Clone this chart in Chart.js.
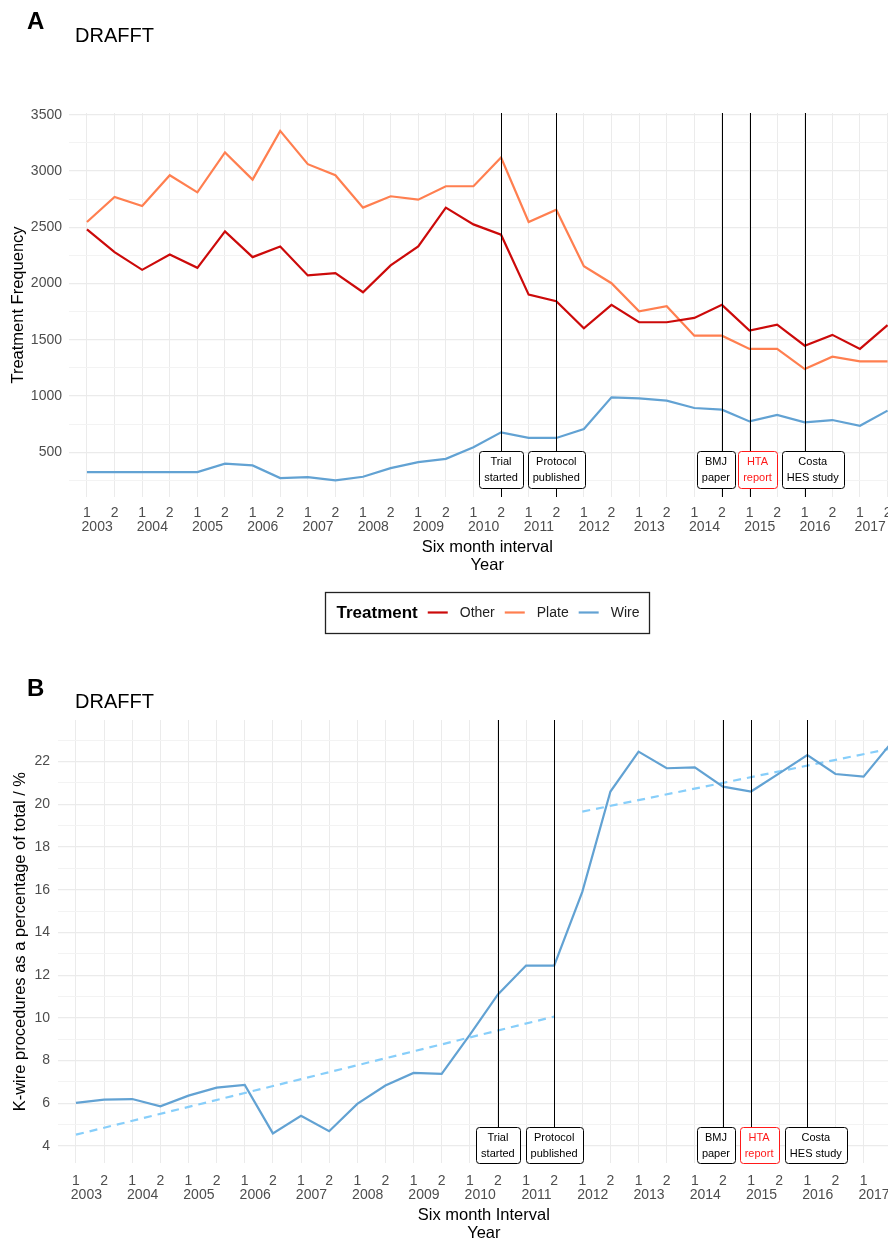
<!DOCTYPE html>
<html>
<head>
<meta charset="utf-8">
<script src="https://cdn.jsdelivr.net/npm/chart.js@4"></script>
<style>
  html, body { margin: 0; padding: 0; overflow: hidden; background: #fff; }
  .panel { position: absolute; left: 0; }
</style>
</head>
<body>
<div class="panel" style="top:0"><canvas id="chartA" width="910" height="645"></canvas></div>
<div class="panel" style="top:660px"><canvas id="chartB" width="912" height="590"></canvas></div>
<script>
// ---- data ----
const years = ['2003', '2004', '2005', '2006', '2007', '2008', '2009', '2010',
               '2011', '2012', '2013', '2014', '2015', '2016', '2017'];
const halves = ['1', '2'];

// panel A: treatment counts per six month interval (2003-1 .. 2017-2)
const other = [2480, 2278, 2121, 2258, 2139, 2463, 2234, 2328, 2071, 2091,
               1922, 2160, 2329, 2674, 2525, 2433, 1901, 1842, 1601, 1810,
               1655, 1655, 1694, 1810, 1581, 1634, 1447, 1543, 1418, 1630];
const plate = [2546, 2768, 2688, 2962, 2810, 3164, 2923, 3356, 3060, 2962,
               2674, 2775, 2745, 2864, 2864, 3119, 2546, 2656, 2154, 2002,
               1753, 1798, 1536, 1536, 1418, 1418, 1239, 1349, 1307, 1307];
const wire  = [323, 323, 323, 323, 323, 398, 383, 270, 279, 250,
               282, 359, 412, 441, 544, 677, 627, 627, 707, 988,
               979, 958, 893, 878, 774, 831, 765, 786, 735, 870];

// panel B: K-wire share of total (%)
const wirePct = [6.02, 6.17, 6.20, 5.86, 6.36, 6.73, 6.86, 4.59, 5.41, 4.69,
                 5.97, 6.83, 7.42, 7.38, 9.20, 11.10, 12.45, 12.45, 15.90, 20.60,
                 22.47, 21.69, 21.73, 20.83, 20.60, 21.45, 22.31, 21.42, 21.30, 22.90];
// fitted trend lines, before / after the protocol (period index, value)
const trendPreIdx = [0, 17];
const trendPreVal = [4.53, 10.06];
const trendPostIdx = [18, 29];
const trendPostVal = [19.66, 22.62];

// events marked on both panels (period index)
const eventIdx = [15, 17, 23, 24, 26];
const eventLabels = [['Trial', 'started'], ['Protocol', 'published'], ['BMJ', 'paper'],
                     ['HTA', 'report'], ['Costa', 'HES study']];
const eventColors = ['#000', '#000', '#000', '#ff1a1a', '#000'];

// ---- styling ----
const FONT = '"Liberation Sans", Arial, sans-serif';
Chart.defaults.font.family = FONT;
Chart.defaults.color = '#4d4d4d';
const RED = '#cc0a0a', CORAL = '#ff7f50', BLUE = '#62a2d3', LIGHT = '#87cefa';

const pts = (vals) => vals.map((v, i) => ({ x: i, y: v }));
const ptsIdx = (idx, vals) => idx.map((x, i) => ({ x: x, y: vals[i] }));

// vertical event lines + label boxes
const eventPlugin = {
    id: 'events',
    afterDatasetsDraw(chart, args, opts) {
        const { ctx, chartArea, scales } = chart;
        ctx.save();
        ctx.strokeStyle = '#000';
        ctx.lineWidth = 1;
        eventIdx.forEach(idx => {
            const x = Math.round(scales.x.getPixelForValue(idx)) + 0.5;
            ctx.beginPath();
            ctx.moveTo(x, chartArea.top);
            ctx.lineTo(x, chartArea.bottom);
            ctx.stroke();
        });
        const yc = scales.y.getPixelForValue(opts.labelY);
        ctx.font = '11px ' + FONT;
        ctx.textAlign = 'center';
        ctx.textBaseline = 'middle';
        eventIdx.forEach((idx, i) => {
            const lines = eventLabels[i];
            const w = Math.max(...lines.map(l => ctx.measureText(l).width)) + 10;
            const h = opts.boxH;
            const cx = scales.x.getPixelForValue(idx) + opts.nudge[i];
            const x0 = Math.round(cx - w / 2) + 0.5;
            const y0 = Math.round(yc - h / 2) + 0.5;
            ctx.beginPath();
            ctx.roundRect(x0, y0, Math.round(w), h, 3);
            ctx.fillStyle = '#fff';
            ctx.fill();
            ctx.strokeStyle = eventColors[i];
            ctx.stroke();
            ctx.fillStyle = eventColors[i];
            ctx.fillText(lines[0], cx, yc - 7);
            ctx.fillText(lines[1], cx, yc + 9);
        });
        ctx.restore();
    }
};

// panel letter and "DRAFFT" heading
const headingPlugin = {
    id: 'heading',
    afterDraw(chart, args, opts) {
        const { ctx } = chart;
        ctx.save();
        ctx.fillStyle = '#000';
        ctx.textAlign = 'left';
        ctx.textBaseline = 'alphabetic';
        ctx.font = 'bold 24px ' + FONT;
        ctx.fillText(opts.letter, 27, opts.letterY);
        ctx.font = '20px ' + FONT;
        ctx.fillText('DRAFFT', 75, opts.titleY);
        ctx.restore();
    }
};

// ggplot-like legend in a box: bold title then line keys
const legendBox = {
    id: 'legendBox',
    afterDraw(chart, args, opts) {
        if (!opts.show) return;
        const { ctx, chartArea } = chart;
        ctx.save();
        ctx.font = 'bold 17px ' + FONT;
        const titleW = ctx.measureText('Treatment').width;
        ctx.font = '14px ' + FONT;
        const items = chart.data.datasets.map(ds => ({
            label: ds.label, color: ds.borderColor, w: ctx.measureText(ds.label).width
        }));
        const total = 11 + titleW + items.reduce((s, it) => s + 10 + 20 + 12 + it.w, 0) + 10;
        const x0 = Math.round((chartArea.left + chartArea.right) / 2 - total / 2) + 0.5;
        const y0 = opts.top + 0.5, h = 41, yc = opts.top + h / 2;
        ctx.strokeStyle = '#222';
        ctx.lineWidth = 1.3;
        ctx.strokeRect(x0, y0, Math.round(total), h);
        ctx.textBaseline = 'middle';
        ctx.textAlign = 'left';
        ctx.fillStyle = '#000';
        ctx.font = 'bold 17px ' + FONT;
        let x = x0 + 11;
        ctx.fillText('Treatment', x, yc + 1);
        x += titleW;
        ctx.font = '14px ' + FONT;
        items.forEach(it => {
            x += 10;
            ctx.strokeStyle = it.color;
            ctx.lineWidth = 2.2;
            ctx.beginPath();
            ctx.moveTo(x, yc);
            ctx.lineTo(x + 20, yc);
            ctx.stroke();
            x += 32;
            ctx.fillStyle = '#222';
            ctx.fillText(it.label, x, yc + 1);
            x += it.w;
        });
        ctx.restore();
    }
};

function xAxes(xHeight, xPad, yearHeight, yearPad, titleText, titleBottom) {
    return {
        x: {
            type: 'linear', position: 'bottom', weight: 0,
            min: -0.65, max: 29.65,
            grid: { color: '#ebebeb', lineWidth: 1, drawTicks: false },
            border: { display: false },
            ticks: {
                stepSize: 1, includeBounds: false, autoSkip: false, maxRotation: 0,
                padding: xPad, font: { size: 14 }, color: '#4d4d4d',
                callback: v => Number.isInteger(v) ? halves[((v % 2) + 2) % 2] : ''
            },
            afterFit: s => { s.height = xHeight; }
        },
        xYear: {
            type: 'linear', position: 'bottom', weight: 1,
            min: -0.65, max: 29.65,
            grid: { display: false, drawTicks: false },
            border: { display: false },
            // year label sits a little left of the mid point between its two halves
            afterBuildTicks: s => { s.ticks = years.map((y, i) => ({ value: 2 * i + 0.37 })); },
            ticks: {
                autoSkip: false, maxRotation: 0, padding: yearPad,
                font: { size: 14 }, color: '#4d4d4d',
                callback: v => years[Math.round((v - 0.37) / 2)]
            },
            title: {
                display: true, text: titleText, color: '#000',
                font: { size: 16.5, lineHeight: 1.1 },
                padding: { top: 0, bottom: titleBottom }
            },
            afterFit: s => { s.height = yearHeight; }
        }
    };
}

// ---- panel A ----
new Chart(document.getElementById('chartA'), {
    type: 'line',
    data: {
        datasets: [
            { label: 'Other', data: pts(other), borderColor: RED, backgroundColor: RED },
            { label: 'Plate', data: pts(plate), borderColor: CORAL, backgroundColor: CORAL },
            { label: 'Wire', data: pts(wire), borderColor: BLUE, backgroundColor: BLUE }
        ]
    },
    options: {
        responsive: false,
        animation: false,
        devicePixelRatio: 1,
        layout: { padding: { top: 113, bottom: 66.5, left: 0, right: 4.5 } },
        elements: { line: { borderWidth: 2.2, tension: 0 }, point: { radius: 0 } },
        plugins: {
            legend: { display: false },
            tooltip: { enabled: false },
            events: { labelY: 349, boxH: 37, nudge: [0, 0, -6, 8, 8] },
            heading: { letter: 'A', letterY: 29, titleY: 42 },
            legendBox: { show: true, top: 592 }
        },
        scales: Object.assign(xAxes(21, 8, 60.5, 1, ['Six month interval', 'Year'], 4), {
            y: {
                min: 102, max: 3515,
                grid: {
                    drawTicks: false,
                    color: c => c.tick.value % 500 === 0 ? '#ebebeb' : '#f3f3f3',
                    lineWidth: c => c.tick.value % 500 === 0 ? 1.2 : 1
                },
                border: { display: false },
                ticks: {
                    stepSize: 250, includeBounds: false, autoSkip: false, padding: 7,
                    font: { size: 14 }, color: '#4d4d4d',
                    callback: v => v % 500 === 0 ? String(v) : ''
                },
                title: {
                    display: true, text: 'Treatment Frequency', color: '#000',
                    font: { size: 16.5 }, padding: { top: 9, bottom: 0 }
                },
                afterFit: s => { s.width = 69; }
            }
        })
    },
    plugins: [eventPlugin, headingPlugin, legendBox]
});

// ---- panel B ----
new Chart(document.getElementById('chartB'), {
    type: 'line',
    data: {
        datasets: [
            { label: 'Wire', data: pts(wirePct), borderColor: BLUE, borderWidth: 2.2 },
            { label: 'Trend pre', data: ptsIdx(trendPreIdx, trendPreVal), borderColor: LIGHT,
              borderWidth: 2.2, borderDash: [8, 6] },
            { label: 'Trend post', data: ptsIdx(trendPostIdx, trendPostVal), borderColor: LIGHT,
              borderWidth: 2.2, borderDash: [8, 6] }
        ]
    },
    options: {
        responsive: false,
        animation: false,
        devicePixelRatio: 1,
        layout: { padding: { top: 60, bottom: 0, left: 0, right: 2 } },
        elements: { line: { tension: 0 }, point: { radius: 0 } },
        plugins: {
            legend: { display: false },
            tooltip: { enabled: false },
            events: { labelY: 4.03, boxH: 36, nudge: [0, 0, -7, 8, 8.5] },
            heading: { letter: 'B', letterY: 36, titleY: 48 },
            legendBox: { show: false }
        },
        scales: Object.assign(xAxes(22, 9, 64.7, 1.4, ['Six month Interval', 'Year'], 7.25), {
            y: {
                min: 3.19, max: 23.95,
                grid: {
                    drawTicks: false,
                    color: c => c.tick.value % 2 === 0 ? '#ebebeb' : '#f3f3f3',
                    lineWidth: c => c.tick.value % 2 === 0 ? 1.2 : 1
                },
                border: { display: false },
                ticks: {
                    stepSize: 1, includeBounds: false, autoSkip: false, padding: 7.7,
                    font: { size: 14 }, color: '#4d4d4d',
                    callback: v => v % 2 === 0 ? String(v) : ''
                },
                title: {
                    display: true, text: 'K-wire procedures as a percentage of total / %', color: '#000',
                    font: { size: 16.5 }, padding: { top: 11, bottom: 0 }
                },
                afterFit: s => { s.width = 57.7; }
            }
        })
    },
    plugins: [eventPlugin, headingPlugin, legendBox]
});
</script>
</body>
</html>
